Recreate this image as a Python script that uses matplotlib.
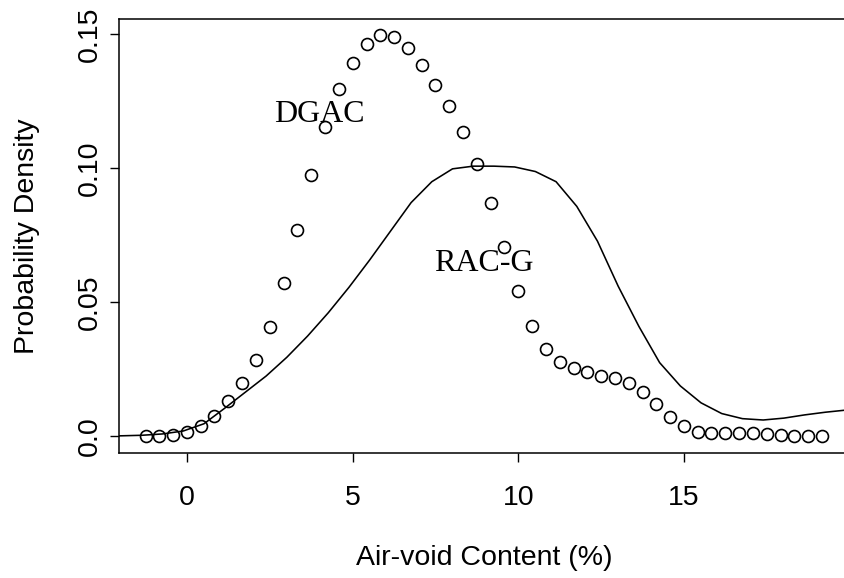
import matplotlib
matplotlib.use("Agg")
import matplotlib.pyplot as plt

# DGAC density (open circles)
dgac_x = [-1.25, -0.83, -0.42, 0.0, 0.42, 0.83, 1.25, 1.67, 2.08, 2.5,
          2.92, 3.33, 3.75, 4.17, 4.58, 5.0, 5.42, 5.83, 6.25, 6.67,
          7.08, 7.5, 7.92, 8.33, 8.75, 9.17, 9.58, 10.0, 10.42, 10.83,
          11.25, 11.67, 12.08, 12.5, 12.92, 13.33, 13.75, 14.17, 14.58, 15.0,
          15.42, 15.83, 16.25, 16.67, 17.08, 17.5, 17.92, 18.33, 18.75, 19.17]
dgac_y = [0.0001, 0.0002, 0.0005, 0.0017, 0.0040, 0.0077, 0.0133, 0.0199, 0.0285, 0.0407,
          0.0571, 0.0770, 0.0975, 0.1155, 0.1295, 0.1394, 0.1463, 0.1497, 0.1489, 0.1450,
          0.1385, 0.1311, 0.1231, 0.1137, 0.1016, 0.0869, 0.0705, 0.0542, 0.0412, 0.0325,
          0.0278, 0.0254, 0.0239, 0.0226, 0.0216, 0.0198, 0.0165, 0.0122, 0.0073, 0.0040,
          0.0016, 0.0011, 0.0011, 0.0013, 0.0011, 0.0009, 0.0004, 0.0001, 0.0000, 0.0000]

# RAC-G density (solid line)
racg_x = [-2.61, -1.985, -1.36, -0.735, -0.11, 0.515, 1.14, 1.765, 2.39, 3.015,
          3.64, 4.265, 4.89, 5.515, 6.14, 6.765, 7.39, 8.015, 8.64, 9.265,
          9.89, 10.515, 11.14, 11.765, 12.39, 13.015, 13.64, 14.265, 14.89, 15.515,
          16.14, 16.765, 17.39, 18.015, 18.64, 19.265, 19.89, 20.5]
racg_y = [0.0001, 0.0002, 0.0004, 0.0009, 0.0020, 0.0047, 0.0105, 0.0165, 0.0225, 0.0295,
          0.0374, 0.0461, 0.0556, 0.0658, 0.0765, 0.0872, 0.0950, 0.0998, 0.1008, 0.1008,
          0.1005, 0.0988, 0.0950, 0.0858, 0.0728, 0.0560, 0.0410, 0.0275, 0.0188, 0.0125,
          0.0085, 0.0066, 0.0061, 0.0068, 0.0080, 0.0090, 0.0098, 0.0104]

x_ticks = [0, 5, 10, 15]
y_ticks = [0.0, 0.05, 0.10, 0.15]
y_tick_labels = ["0.0", "0.05", "0.10", "0.15"]

labels = ["DGAC", "RAC-G"]
label_pos = [(4.0, 0.120), (8.95, 0.0645)]

W, H = 844, 578
fig = plt.figure(figsize=(W / 100, H / 100), dpi=100)
left, right, top, bottom = 119, 849, 19, 452.7
ax = fig.add_axes([left / W, (H - bottom) / H, (right - left) / W, (bottom - top) / H])

ax.plot(racg_x, racg_y, color="black", lw=1.15, clip_on=True)
ax.plot(dgac_x, dgac_y, linestyle="none", marker="o", ms=8.6, mfc="none",
        mec="black", mew=1.2)

for t, (tx, ty) in zip(labels, label_pos):
    ax.text(tx, ty, t, ha="center", va="center", fontsize=23,
            family=["Liberation Serif", "DejaVu Serif"], color="black")

ax.set_xlim(-2.05, 19.98)
ax.set_ylim(-0.0061, 0.1557)

ax.set_xticks(x_ticks)
ax.set_xticklabels([str(v) for v in x_ticks])
ax.set_yticks(y_ticks)
ax.set_yticklabels(y_tick_labels, rotation=90, va="center")

sans = ["Liberation Sans", "DejaVu Sans"]
for lab in ax.get_xticklabels() + ax.get_yticklabels():
    lab.set_family(sans)
    lab.set_fontsize(20.5)

ax.tick_params(axis="both", direction="out", length=6.5, width=1.0, color="black")
ax.tick_params(axis="x", pad=17)
ax.tick_params(axis="y", pad=5)

for s in ax.spines.values():
    s.set_linewidth(1.1)
    s.set_color("black")

ax.set_xlabel("Air-void Content (%)", fontsize=20.5, family=sans, labelpad=24)
ax.set_ylabel("Probability Density", fontsize=20.5, family=sans, labelpad=27)

fig.savefig("out.png", dpi=100)
